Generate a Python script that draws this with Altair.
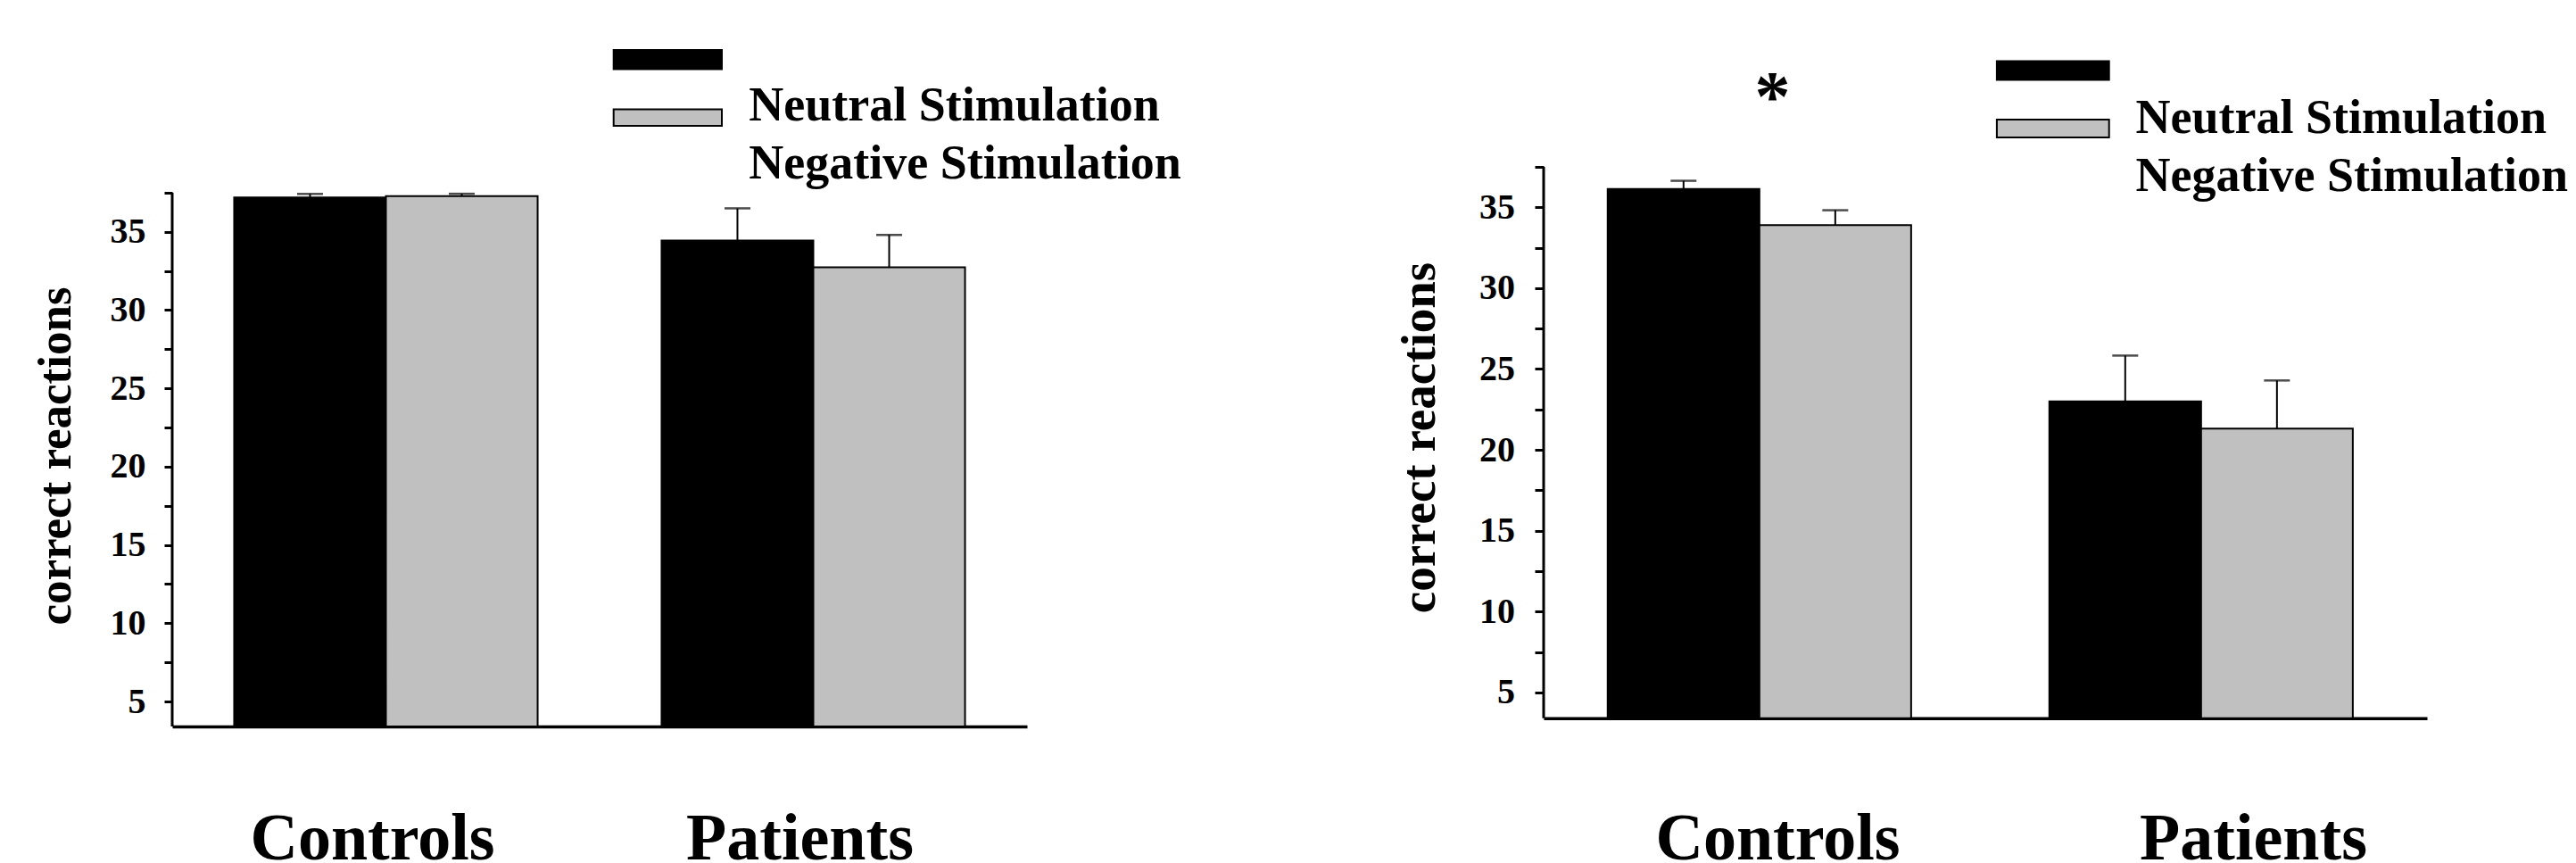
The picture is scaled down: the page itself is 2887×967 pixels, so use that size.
import altair as alt
import pandas as pd

FONT = "Liberation Serif"

groups = ["Controls", "Patients"]
conditions = ["Neutral Stimulation", "Negative Stimulation"]
colors = ["#000000", "#c0c0c0"]

# left panel (means and error bar lengths)
left_neutral = [37.2, 34.45]
left_negative = [37.28, 32.74]
left_neutral_err = [0.22, 2.05]
left_negative_err = [0.15, 2.06]

# right panel
right_neutral = [36.14, 23.0]
right_negative = [33.9, 21.31]
right_neutral_err = [0.5, 2.83]
right_negative_err = [0.92, 2.98]

y_ticks = [5, 7.5, 10, 12.5, 15, 17.5, 20, 22.5, 25, 27.5, 30, 32.5, 35, 37.5]
y_axis_range = [3.4, 37.5]
y_title = "correct reactions"
star = "*"


def make_df(neutral, negative, n_err, g_err):
    rows = []
    for i, g in enumerate(groups):
        rows.append({"group": g, "condition": conditions[0], "value": neutral[i], "err": n_err[i]})
        rows.append({"group": g, "condition": conditions[1], "value": negative[i], "err": g_err[i]})
    return pd.DataFrame(rows)


def panel(df, geo):
    xo = alt.XOffset("condition:N", sort=conditions,
                     scale=alt.Scale(paddingInner=0, paddingOuter=0))
    xscale = alt.Scale(domain=groups, paddingInner=0.29, paddingOuter=0.145)
    yscale = alt.Scale(domain=[y_axis_range[0], geo["ytop"]], nice=False, zero=False)

    xaxis = alt.Axis(title=None, ticks=False, tickSize=0, labelAngle=0,
                     labelFontSize=74, labelPadding=geo["xlabpad"],
                     labelOffset=geo["xlaboff"], domainWidth=3.5,
                     labelBaseline="top", labelLimit=0)
    yaxis = alt.Axis(values=y_ticks, domain=False,
                     labelExpr="datum.value % 5 === 0 ? datum.label : ''",
                     tickSize=geo["ticksize"], tickWidth=3,
                     labelPadding=geo["ylabpad"], labelFontSize=40,
                     title=y_title, titleFontSize=geo["titlesize"],
                     titleX=geo["titlex"], titleY=geo["titley"], titleAngle=-90,
                     titleAlign="center", titleBaseline="alphabetic")

    X = alt.X("group:N", sort=groups, scale=xscale, axis=xaxis, title=None)

    base = alt.Chart(df)
    bars = base.mark_bar(stroke="black", strokeWidth=2).encode(
        x=X,
        xOffset=xo,
        y=alt.Y("value:Q", scale=yscale, axis=yaxis, title=y_title),
        y2=alt.datum(y_axis_range[0]),
        color=alt.Color("condition:N", scale=alt.Scale(domain=conditions, range=colors), legend=None),
    )
    err = base.transform_calculate(upper="datum.value + datum.err")
    rules = err.mark_rule(color="black", strokeWidth=2).encode(
        x=X,
        xOffset=xo,
        y=alt.Y("value:Q", scale=yscale, axis=yaxis, title=y_title),
        y2="upper:Q",
    )
    caps = err.mark_tick(color="black", thickness=2.5, size=geo["cap"]).encode(
        x=X,
        xOffset=xo,
        y=alt.Y("upper:Q", scale=yscale, axis=yaxis, title=y_title),
    )

    one = pd.DataFrame({"k": [0]})
    # y axis line, from the bottom of the scale up to the last tick
    axis_line = alt.Chart(one).mark_rule(color="black", strokeWidth=3).encode(
        x=alt.value(0),
        y=alt.Y(datum=y_axis_range[0], scale=yscale, axis=yaxis, title=y_title),
        y2=alt.datum(y_axis_range[1]),
    )
    layers = [bars, rules, caps, axis_line]
    # legend swatches
    for i, (y1, y2) in enumerate(geo["swatch_y"]):
        layers.append(
            alt.Chart(one).mark_rect(fill=colors[i], stroke="black", strokeWidth=2).encode(
                x=alt.value(geo["swatch_x"][0]), x2=alt.value(geo["swatch_x"][1]),
                y=alt.value(y1), y2=alt.value(y2)))
    for i, yb in enumerate(geo["text_y"]):
        layers.append(
            alt.Chart(pd.DataFrame({"label": [conditions[i]]})).mark_text(
                font=FONT, fontWeight="bold", fontSize=geo["legsize"], align="left",
                baseline="alphabetic", color="black").encode(
                text="label:N", x=alt.value(geo["text_x"]), y=alt.value(yb)))
    if geo.get("star"):
        layers.append(
            alt.Chart(pd.DataFrame({"group": [groups[0]], "s": [star]})).mark_text(
                font=FONT, fontWeight="bold", fontSize=80, baseline="alphabetic",
                dx=9, color="black").encode(
                x=X, y=alt.value(geo["star_y"]), text="s:N"))
    # invisible frame fixing the panel's cell in the page
    layers.append(
        alt.Chart(one).mark_rect(opacity=0).encode(
            x=alt.value(geo["cell"][0]), x2=alt.value(geo["cell"][1]),
            y=alt.value(geo["cell"][2]), y2=alt.value(geo["cell"][3])))
    return alt.layer(*layers).properties(width=geo["w"], height=geo["h"])


TOP = 186.9  # page y of both plot areas' origins
d = 215.8 - TOP  # left panel's axis starts lower
left_geo = dict(
    w=958, h=814 - TOP, ytop=37.5 + d / 17.54, xlabpad=90, xlaboff=-15, ticksize=9, ylabpad=21,
    titlesize=53, titlex=-115, titley=294.6 + d, cap=29,
    swatch_x=(494.7, 616), swatch_y=[(-159.8 + d, -138.5 + d), (-93.5 + d, -74.8 + d)],
    text_x=646.3, text_y=[-81 + d, -16 + d], legsize=54,
    cell=(-193, 1443 - 193, -TOP, 967 - TOP),
)
right_geo = dict(
    w=990, h=804.7 - TOP, ytop=37.5, xlabpad=100,
    xlaboff={"condition": {"test": "datum.value === 'Patients'", "value": 53}, "value": 15},
    ticksize=10, ylabpad=22.6,
    titlesize=55, titlex=-123, titley=303, cap=29,
    swatch_x=(507.9, 633.7), swatch_y=[(-118.6, -97.6), (-52.9, -32.9)],
    text_x=663.5, text_y=[-38, 27], legsize=54,
    star=True, star_y=-52,
    cell=(1443 - 1729.3, 2886 - 1729.3, -TOP, 967 - TOP),
)

left = panel(make_df(left_neutral, left_negative, left_neutral_err, left_negative_err), left_geo)
right = panel(make_df(right_neutral, right_negative, right_neutral_err, right_negative_err), right_geo)

chart = (
    alt.concat(left, right, columns=2, spacing=0, align="none")
    .properties(padding=0, background="white")
    .configure_view(stroke=None)
    .configure_axis(labelFont=FONT, titleFont=FONT, labelFontWeight="bold",
                    titleFontWeight="bold", labelColor="black", titleColor="black",
                    domainColor="black", tickColor="black", grid=False)
)

chart.save("out.html", embed_options={"renderer": "svg", "actions": False})
